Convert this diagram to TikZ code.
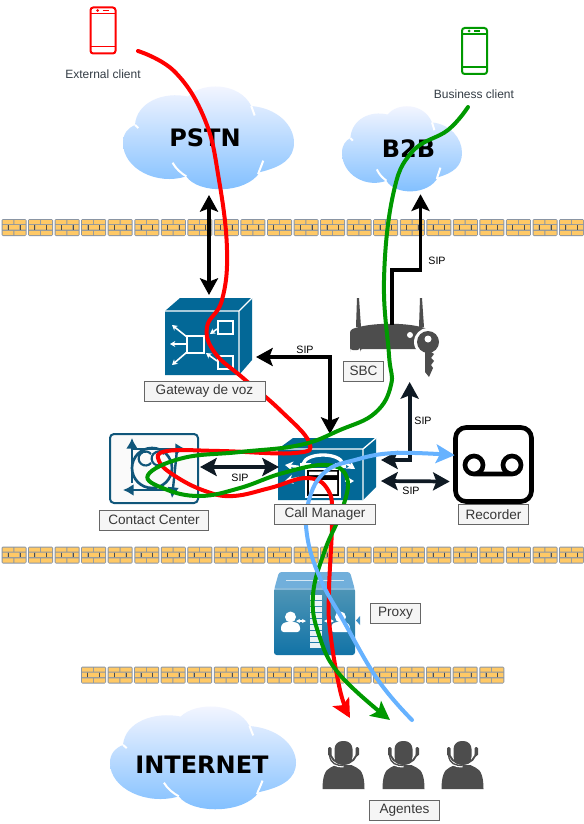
\documentclass[tikz,border=0pt]{standalone}
\usepackage{fontspec}
\setmainfont{Liberation Sans}
\newfontfamily\cloudfont{DejaVu Sans}
\usetikzlibrary{arrows.meta,positioning,calc}

\definecolor{ciscoblue}{HTML}{036897}
\definecolor{ccblue}{HTML}{10567A}
\definecolor{darkicon}{HTML}{4D4D4D}
\definecolor{arrowdark}{HTML}{0F1A24}
\definecolor{greenline}{HTML}{009900}
\definecolor{blueline}{HTML}{66B2FF}
\definecolor{brickfill}{HTML}{FFC966}
\definecolor{brickline}{HTML}{8A95A3}

\tikzset{
  port/.style 2 args={inner sep=0pt,minimum width=#1*0.75pt,minimum height=#2*0.75pt},
  namebox/.style={draw=black!60,fill=black!4,text=black!78,font=\fontsize{10.2}{12}\selectfont,inner sep=0pt,line width=0.75pt},
  sip/.style={font=\fontsize{8}{10}\selectfont,inner sep=0pt,text=black},
  clientname/.style={font=\fontsize{9}{11}\selectfont,inner sep=0pt,text=arrowdark!85},
  siparrow/.style={{Stealth[length=12.5pt,width=13.5pt,inset=2.5pt]}-{Stealth[length=12.5pt,width=13.5pt,inset=2.5pt]},line width=2.8pt,draw=arrowdark},
  callflow/.style={-{Stealth[length=14pt,width=14pt,inset=3pt]},line width=3pt,line cap=round},
  cloudfill/.style={top color=blue!3!white,bottom color=blueline!85!white,draw=none},
  pics/brick/.style={code={
    \fill[brickline,rounded corners=1pt] (0,0) rectangle (25,17);
    \fill[brickfill] (1,1) rectangle (11.8,5.1) (12.8,1) rectangle (24,5.1);
    \fill[brickfill] (1,6.2) rectangle (6.2,10.7) (7.2,6.2) rectangle (17.8,10.7) (18.8,6.2) rectangle (24,10.7);
    \fill[brickfill] (1,11.8) rectangle (11.8,16) (12.8,11.8) rectangle (24,16);
    \draw[black!70,line width=0.4pt] (6.7,6.2) -- (6.7,10.7) (18.3,6.2) -- (18.3,10.7);
  }},
  pics/mobile/.style={code={
    \draw[line width=1.5pt,draw=#1,rounded corners=2pt] (0,0) rectangle (25,46);
    \draw[line width=1pt,draw=#1] (0,6) -- (25,6) (0,39) -- (25,39);
    \fill[#1] (7,3) circle (1.5);
    \draw[line width=1pt,draw=#1] (12,3) -- (18,3);
  }},
  pics/agent/.style={code={
    \fill[darkicon] (-21,27) .. controls (-21,16) and (-19,8) .. (-13,5.5) -- (-8,3) -- (8,3) -- (13,5.5) .. controls (19,8) and (21,16) .. (21,27) -- cycle;
    \draw[white,line width=1.5pt] (-14,-6) .. controls (-13,3) and (-7,4.5) .. (0,4.5);
    \draw[darkicon,line width=1pt] (-14,-7) .. controls (-13,2) and (-7,3.5) .. (0,3.5);
    \draw[darkicon,line width=1.4pt] (-14,-12) arc (180:0:14);
    \fill[darkicon,rounded corners=1pt] (-15.5,-15) rectangle (-12,-6);
    \fill[darkicon,rounded corners=1pt] (12,-15) rectangle (15.5,-6);
    \fill[darkicon,rounded corners=6pt] (-9,-21) rectangle (9,2.5);
  }},
}

% cloud outline in a unit box, placed with shift and scale
\newcommand{\cloudshape}[4]{%
  \path[cloudfill,shift={(#1,#2)},xscale=#3,yscale=#4]
    (0,0.55) .. controls (0,0.46) and (0.03,0.41) .. (0.07,0.38)
    .. controls (0.08,0.16) and (0.24,0.06) .. (0.38,0.11)
    .. controls (0.46,-0.03) and (0.68,-0.03) .. (0.75,0.2)
    .. controls (0.9,0.22) and (1,0.38) .. (1,0.55)
    .. controls (1,0.7) and (0.93,0.78) .. (0.8,0.83)
    .. controls (0.72,1.04) and (0.44,1.04) .. (0.37,0.87)
    .. controls (0.2,0.96) and (0,0.8) .. (0,0.55) -- cycle;
  \draw[white,line width=1.5pt,shift={(#1,#2)},xscale=#3,yscale=#4]
    (0.07,0.38) -- (0.09,0.41) (0.75,0.2) -- (0.77,0.29)
    (0.29,0.74) .. controls (0.31,0.8) and (0.34,0.84) .. (0.37,0.87)
    (0.82,0.72) .. controls (0.81,0.77) and (0.8,0.8) .. (0.79,0.85);
}

\begin{document}
\begin{tikzpicture}[x=0.75pt,y=-0.75pt]
\useasboundingbox[fill=white] (0,0) rectangle (583,824);

% Walls
\foreach \n in {0,...,21} {
  \pic at ({1.5+\n*26.55},219) {brick};
  \pic at ({1.5+\n*26.55},546.5) {brick};
}
\foreach \n in {0,...,15} {
  \pic at ({81+\n*26.55},666.5) {brick};
}

% Clouds
\cloudshape{123}{85}{171}{105}
\cloudshape{342}{105}{120}{87}
\cloudshape{110}{705}{186}{105}
\node[port={171}{105},outer sep=3.75pt,font=\cloudfont\bfseries\fontsize{18}{20}\selectfont] (pstn) at (205,137.5) {PSTN};
\node[port={120}{87},font=\cloudfont\bfseries\fontsize{18}{20}\selectfont] (b2b) at (408.5,148.5) {B2B};
\node[port={186}{105},font=\cloudfont\bfseries\fontsize{18}{20}\selectfont] (internet) at (202,765) {INTERNET};

% Phones
\pic at (90.5,7.5) {mobile=red};
\pic at (462,28) {mobile=greenline};
\node[clientname] (external) at (103,74) {External client};
\node[clientname] (business) at (474,94) {Business client};

% Gateway de voz
\node[port={88}{78},outer sep=2.25pt] (gateway) at (209,337) {};
\fill[ciscoblue] (165,311) -- (180,298) -- (252,298) -- (252,360) -- (239,375) -- (165,375) -- cycle;
\draw[white,line width=1pt] (165,311) -- (239,311) -- (252,298) (239,311) -- (239,375);
\draw[white,line width=1.2pt] (187,336) rectangle (204,353) (218,321) rectangle (233,334) (218,356) rectangle (233,369);
\draw[white,line width=1.2pt,-{Stealth[length=4pt,width=4.5pt]}] (187,344) -- (170,344);
\draw[white,line width=1.2pt,-{Stealth[length=4pt,width=4.5pt]}] (187,337) -- (172,325);
\draw[white,line width=1.2pt,-{Stealth[length=4pt,width=4.5pt]}] (187,352) -- (172,365);
\draw[white,line width=1.2pt,-{Stealth[length=4pt,width=4.5pt]}] (217,329) -- (210,334);
\draw[white,line width=1.2pt,-{Stealth[length=4pt,width=4.5pt]}] (217,361) -- (206,353);

% Call Manager
\node[port={100}{64},outer sep=0.75pt] (callmgr) at (330,467) {};
\fill[ciscoblue] (278,449) -- (293,438) -- (376,438) -- (376,487) -- (363,500) -- (278,500) -- cycle;
\draw[white,line width=1pt] (278,449) -- (363,449) -- (376,438) (363,449) -- (363,500);
\draw[white,line width=2.5pt] (303,464) .. controls (306,452) and (340,452) .. (343,464);
\fill[white] (300,463) rectangle (311,468) (335,463) rectangle (346,468);
\fill[white] (305,468) rectangle (341,498);
\fill[black] (307,470) rectangle (339,496);
\fill[white] (309,471.5) rectangle (337,475) (309,480) rectangle (337,494);
\draw[white,line width=2pt,{Stealth[length=6pt,width=7pt]}-] (285,465) -- (299,467);
\draw[white,line width=2pt,{Stealth[length=6pt,width=7pt]}-] (285,481) -- (299,478);
\draw[white,line width=2pt,{Stealth[length=6pt,width=7pt]}-] (355,469) -- (346,463);
\draw[white,line width=2pt,{Stealth[length=6pt,width=7pt]}-] (354,481) -- (345,481);

% Contact Center
\node[port={88}{68},outer sep=1.5pt] (contact) at (154,467) {};
\draw[ccblue,line width=1.5pt,fill=black!2,rounded corners=3pt] (110,434) rectangle (198,503);
\draw[ccblue,line width=2pt] (152,468) circle (20);
\draw[ccblue,line width=1.6pt] (151,463) arc (40:320:7);
\draw[ccblue,line width=1.6pt] (164,463) arc (40:320:7);
\draw[ccblue,line width=1.8pt,-{Latex[length=8pt,width=9pt]}] (132,483) -- (132,438);
\draw[ccblue,line width=1.8pt,-{Latex[length=8pt,width=9pt]}] (132,449) -- (186,449);
\draw[ccblue,line width=1.8pt,-{Latex[length=8pt,width=9pt]}] (177,490) -- (123,490);
\draw[ccblue,line width=1.8pt,-{Latex[length=8pt,width=9pt]}] (177,450) -- (172,498);

% SBC
\node[port={90}{80},outer sep=3pt] (sbc) at (395,338) {};
\fill[darkicon] (356,327) -- (357,298) -- (359,298) -- (361,327) -- cycle;
\fill[darkicon] (419,327) -- (420,298) -- (422,298) -- (424,327) -- cycle;
\fill[darkicon,rounded corners=2pt] (350,349) -- (350,330) .. controls (370,322) and (410,322) .. (430,330) -- (425,349) -- (360,349) -- (360,350) -- (350,350) -- cycle;
\fill[white] (410,335) circle (3);
\fill[white] (428,342) circle (14);
\fill[darkicon] (428,342) circle (11);
\fill[darkicon] (425,345) -- (431,345) -- (431,352) -- (434,354) -- (431,358) -- (434,361) -- (431,365) -- (433,368) -- (429,377) -- (425,372) -- cycle;
\fill[white] (428,339) circle (3.5);

% Recorder
\node[port={77}{75}] (recorder) at (493.5,464.5) {};
\draw[black,line width=3.5pt,rounded corners=8pt,fill=white] (455.5,427.5) rectangle (531.5,501.5);
\draw[black,line width=3.5pt] (474,465) circle (9) (512,465) circle (9) (474,474) -- (512,474);

% Proxy
\node[port={81}{83}] (proxy) at (314.5,613.5) {};
\fill[blueline!50!ciscoblue!70!white,rounded corners=2pt] (274,590) -- (279,572) -- (350,572) -- (355,590) -- cycle;
\draw[white,line width=0.5pt,opacity=0.7] (286,580) -- (344,580);
\shade[top color=ciscoblue!70!white,bottom color=ciscoblue!85!blueline,rounded corners=2pt] (274,588) rectangle (355,655);
\fill[blueline!40!white,opacity=0.5] (274,588) rectangle (355,590);
\foreach \row in {0,...,8} {
  \fill[white,opacity=0.9] (309.5,{595+\row*6}) rectangle (321.5,{599.5+\row*6});
}
\fill[white,rounded corners=2pt] (281,632) -- (281,625) -- (285,622) -- (296,622) -- (300,625) -- (300,632) -- cycle;
\fill[white] (290.5,617) circle (5.5);
\fill[white,rounded corners=2pt] (331,632) -- (331,625) -- (335,622) -- (346,622) -- (350,625) -- (350,632) -- cycle;
\fill[white] (340.5,617) circle (5.5);
\draw[white,line width=0.8pt,{Stealth[length=3pt,width=3pt]}-{Stealth[length=3pt,width=3pt]}] (296,621) -- (306,621);
\draw[white,line width=0.8pt,{Stealth[length=3pt,width=3pt]}-{Stealth[length=3pt,width=3pt]}] (324,621) -- (334,621);
\fill[blueline!40!ciscoblue!90!white] (356,620.5) -- (360,616) -- (360,625) -- cycle;

% Agents
\pic at (343.5,762) {agent};
\pic at (403.5,762) {agent};
\pic at (462.5,762) {agent};
\node[port={44}{54}] (agentone) at (344,761) {};
\node[port={44}{54}] (agenttwo) at (404,761) {};
\node[port={44}{54}] (agentthree) at (463,761) {};

% SIP links
\draw[siparrow,line width=3pt,draw=black] (pstn.south -| gateway.north) -- (gateway.north);
\draw[siparrow,draw=black] ([yshift=-15pt]gateway.east) -| ([yshift=0pt]callmgr.north);
\draw[siparrow] (contact.east) -- (callmgr.west);
\draw[siparrow] ([yshift=-10.5pt]callmgr.east) -- ([xshift=-3.75pt,yshift=-12.75pt]recorder.west);
\draw[siparrow] ([yshift=5.25pt]callmgr.east) -| ([xshift=11pt]sbc.south);
\coordinate (sbcport) at (392,325);
\draw[-{Stealth[length=12.5pt,width=13.5pt,inset=2.5pt]},line width=2.8pt,draw=black] (sbcport) -- ++(0,-55) -| ([xshift=9pt,yshift=-1.5pt]b2b.south);
\node[sip] (sipgateway) at (305,350) {SIP};
\node[sip] (sipcontact) at (240,478) {SIP};
\node[sip] (sipborder) at (437,261) {SIP};
\node[sip] (sipsbc) at (423,421) {SIP};
\node[sip] (siprecorder) at (411,491) {SIP};

% Call flows
\coordinate (redstart) at (138,51);
\coordinate (redend) at (350,718);
\coordinate (greenstart) at (468,107);
\coordinate (greenend) at (390,720);
\coordinate (bluestart) at (412,720);
\draw[callflow,draw=red,-{Stealth[length=14pt,width=14pt,inset=3pt,fill=red]}] plot[smooth,tension=0.7] coordinates {(redstart) (175,72) (205,120) (219,180) (227,250) (222,300) (207,327) (215,353) (243,378) (280,410) (309,442) (295,453) (220,451) (167,451) (159,461) (175,476) (205,491) (233,496) (270,488) (307,478) (328,490) (332,520) (329,590) (330,630) (340,690) (redend)};
\draw[callflow,draw=greenline] plot[smooth,tension=0.7] coordinates {(greenstart) (448,130) (412,152) (393,195) (384,280) (389,355) (391,385) (375,413) (340,430) (300,445) (240,452) (183,458) (148,475) (165,489) (200,496) (240,488) (283,473) (327,465) (347,478) (342,510) (325,550) (313,595) (319,635) (340,675) (greenend)};
\draw[callflow,draw=blueline] plot[smooth,tension=0.7] coordinates {(bluestart) (378,680) (343,620) (320,578) (307,535) (309,500) (325,472) (355,460) (395,453) ([xshift=0pt,yshift=7pt]recorder.west)};

% Name boxes
\node[namebox,minimum width=90.75pt,minimum height=15pt] (gatewayname) at (204.5,391) {Gateway de voz};
\node[namebox,minimum width=30pt,minimum height=15pt] (sbcname) at (363.5,371) {SBC};
\node[namebox,minimum width=76pt,minimum height=15pt] (callmgrname) at (325,514) {Call Manager};
\node[namebox,minimum width=82pt,minimum height=15pt] (contactname) at (154,520) {Contact Center};
\node[namebox,minimum width=52pt,minimum height=15pt] (recordername) at (493.5,514.5) {Recorder};
\node[namebox,minimum width=38pt,minimum height=15pt] (proxyname) at (395.5,613.5) {Proxy};
\node[namebox,minimum width=53pt,minimum height=15pt] (agentname) at (404.5,810) {Agentes};
\end{tikzpicture}
\end{document}
